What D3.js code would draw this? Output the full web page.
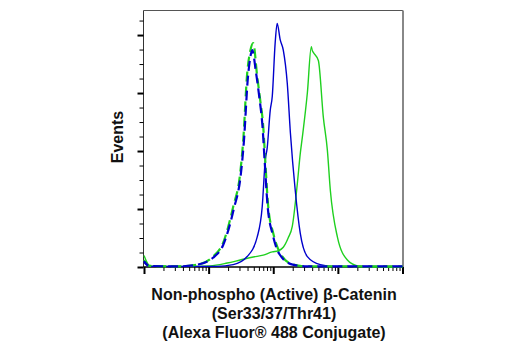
<!DOCTYPE html>
<html><head><meta charset="utf-8">
<script src="https://cdn.jsdelivr.net/npm/d3@7"></script>
<style>body{margin:0;background:#fff}svg{display:block}</style>
</head><body>
<script>
// intensity (log scale) vs events
const greenSolid = [[1,10],[1.24,1],[4,0.5],[10.5,1],[19.4,3.4],[30.8,6],[49,8.6],[70,10.3],[96.5,13],[120,14],[143,17],[170,25],[197,35],[236,72],[262,98],[282,112],[337,150],[388,190],[400,187],[417,185],[499,178],[596,129],[687,101],[765,66],[982,26],[1403,6],[2005,1],[3000,0],[10000,0]];
const blueSolid = [[1,4],[1.2,0.5],[13.5,0.5],[24,2],[39.5,9],[56.5,26],[67.5,52],[75.2,92],[80.7,103],[89.8,135],[96.5,147],[107,193],[115,210],[128,196],[143,187],[165,158],[184,116],[219,66],[262,29],[337,9],[535,2],[851,0.5],[10000,0.5]];
const greenDashed = [[1,6],[1.2,1],[3.25,0.5],[6.6,2],[11.7,9],[16.8,21],[24,52],[30.8,81],[34.3,109],[39.5,167],[44,186],[49,193],[56.5,164],[62.8,144],[70,121],[75.2,92],[83.6,52],[100,29],[128,12],[204,2],[337,0.5],[10000,0.5]];
const blueDashed = [[1,5],[1.2,1],[3.25,0.5],[6.6,2],[11.7,8],[16.8,19],[24.5,50],[31.5,80],[35,107],[40.5,163],[44.5,182],[47.2,187],[54,168],[61,146],[68,122],[73.5,92],[82,52],[98,28],[125,11],[200,2],[337,0.5],[10000,0.5]];
const yMajor = [0,50,100,150,200];
const yMinor = [12.5,25,37.5,62.5,75,87.5,112.5,125,137.5,162.5,175,187.5,212.5];
const xMajor = [1,10,100,1000,10000];
const yTitle = "Events";
const xTitle = ["Non-phospho (Active) β-Catenin","(Ser33/37/Thr41)","(Alexa Fluor® 488 Conjugate)"];

const W=520,H=350;
const svg=d3.select("body").append("svg").attr("width",W).attr("height",H);
const x=d3.scaleLog().domain([1,10000]).range([144,402.5]);
const y=d3.scaleLinear().domain([0,221.6]).range([267,10]);
const L=143.5,R=403,T=10.5,B=267;
const font="'Liberation Sans Narrow','Arial Narrow','Liberation Sans',sans-serif";

// frame
svg.append("line").attr("x1",L).attr("x2",R).attr("y1",T).attr("y2",T).attr("stroke","#555").attr("stroke-width",1);
svg.append("line").attr("x1",R).attr("x2",R).attr("y1",T).attr("y2",B).attr("stroke","#888").attr("stroke-width",2);
svg.append("line").attr("x1",L).attr("x2",L).attr("y1",T).attr("y2",B).attr("stroke","#333").attr("stroke-width",1);

// y ticks
const ga=svg.append("g").attr("transform",`translate(${L},0)`).call(d3.axisLeft(y).tickValues(yMajor).tickSize(6).tickFormat(""));
ga.select(".domain").remove();
ga.selectAll("line").attr("stroke","#000").attr("stroke-width",2);
const gm=svg.append("g").attr("transform",`translate(${L},0)`).call(d3.axisLeft(y).tickValues(yMinor).tickSize(4).tickFormat(""));
gm.select(".domain").remove();
gm.selectAll("line").attr("stroke","#000").attr("stroke-width",1);

// x ticks
const xMinor=[];
for(let d=1;d<10000;d*=10){for(let k=2;k<=9;k++)xMinor.push(d*k);}
const gx=svg.append("g").attr("transform",`translate(0,${B})`).call(d3.axisBottom(x).tickValues(xMajor).tickSize(7).tickFormat(""));
gx.select(".domain").remove();
gx.selectAll("line").attr("stroke","#000").attr("stroke-width",2);
const gxm=svg.append("g").attr("transform",`translate(0,${B})`).call(d3.axisBottom(x).tickValues(xMinor).tickSize(4).tickFormat(""));
gxm.select(".domain").remove();
gxm.selectAll("line").attr("stroke","#000").attr("stroke-width",1);
svg.append("line").attr("x1",L).attr("x2",R).attr("y1",B).attr("y2",B).attr("stroke","#000").attr("stroke-width",1.5);

// curves
const line=d3.line().x(d=>x(d[0])).y(d=>y(d[1])).curve(d3.curveMonotoneX);
const g=svg.append("g");
g.append("path").datum(greenSolid).attr("d",line).attr("fill","none").attr("stroke","#1fd01f").attr("stroke-width",1.4);
g.append("path").datum(blueSolid).attr("d",line).attr("fill","none").attr("stroke","#0000cc").attr("stroke-width",1.4);
g.append("path").datum(greenDashed).attr("d",line).attr("fill","none").attr("stroke","#1fd01f").attr("stroke-width",2.2).attr("stroke-dasharray","10,5");
g.append("path").datum(blueDashed).attr("d",line).attr("fill","none").attr("stroke","#0000cc").attr("stroke-width",2.2).attr("stroke-dasharray","10,5").attr("stroke-dashoffset",4);

// titles
svg.append("text").attr("transform","translate(123,137) rotate(-90)").attr("text-anchor","middle")
  .attr("font-family",font).attr("font-weight","bold").attr("font-size",16).attr("fill","#111").text(yTitle);
xTitle.forEach((t,i)=>{
  svg.append("text").attr("x",274).attr("y",300+i*19).attr("text-anchor","middle")
    .attr("font-family",font).attr("font-weight","bold").attr("font-size",16).attr("fill","#111").text(t);
});
</script>
</body></html>
